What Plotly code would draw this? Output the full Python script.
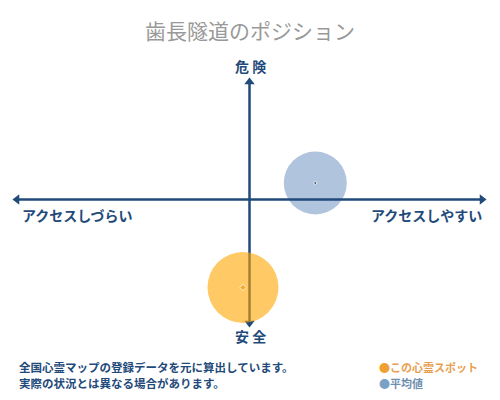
import plotly.graph_objects as go

# ポジションデータ（横: アクセス, 縦: 危険度）
names = ['平均値', 'この心霊スポット']
access = [0.283, -0.028]
danger = [0.1375, -0.733]

title = '歯長隧道のポジション'
axis_labels = ['危 険', '安 全', 'アクセスしづらい', 'アクセスしやすい']
notes = ['全国心霊マップの登録データを元に算出しています。',
         '実際の状況とは異なる場合があります。']

navy = '#1f4a7a'
font = 'Noto Sans CJK JP'
OFF = 8  # ページ余白の分だけずらす
W, H = 500, 400


def px(x):
    return (x - OFF) / W


def py(y):
    return 1 - (y - OFF) / H


fig = go.Figure()

# 平均値の円（軸の下）
fig.add_trace(go.Scatter(x=[access[0]], y=[danger[0]], mode='markers',
                         marker=dict(size=63, color='#b0c4de', line=dict(width=0)),
                         hoverinfo='skip'))

# 軸
fig.add_trace(go.Scatter(x=[-1, 1], y=[0, 0], mode='lines',
                         line=dict(color=navy, width=2.5), hoverinfo='skip'))
fig.add_trace(go.Scatter(x=[0, 0], y=[-1.03, 0.98], mode='lines',
                         line=dict(color=navy, width=2.5), hoverinfo='skip'))
fig.add_trace(go.Scatter(x=[-1, 1, 0, 0], y=[0, 0, 0.98, -1.03], mode='markers',
                         marker=dict(symbol=['triangle-left', 'triangle-right', 'triangle-up', 'triangle-down'],
                                     size=9, color=navy),
                         hoverinfo='skip'))

# この心霊スポットの円（半透明）
fig.add_trace(go.Scatter(x=[access[1]], y=[danger[1]], mode='markers',
                         marker=dict(size=71, color='rgba(255,165,0,0.6)', line=dict(width=0)),
                         hoverinfo='skip'))

# 中心点
fig.add_trace(go.Scatter(x=access, y=danger, mode='markers',
                         marker=dict(size=[3, 5], color=['#1a2a3a', '#f0a020'],
                                     symbol=['circle', 'diamond']),
                         hoverinfo='skip'))

ann = [
    dict(text=title, x=250, y=30, font=dict(size=21, color='#999999')),
    dict(text='<b>' + axis_labels[0] + '</b>', x=250, y=66, font=dict(size=14, color=navy)),
    dict(text='<b>' + axis_labels[1] + '</b>', x=250, y=336, font=dict(size=14, color=navy)),
    dict(text='<b>' + axis_labels[2] + '</b>', x=77, y=215, font=dict(size=14, color=navy)),
    dict(text='<b>' + axis_labels[3] + '</b>', x=426, y=215, font=dict(size=14, color=navy)),
]
for a in ann:
    fig.add_annotation(xref='paper', yref='paper', x=px(a['x']), y=py(a['y']),
                       text=a['text'], showarrow=False, font=dict(family=font, **a['font']),
                       xanchor='center', yanchor='middle')

for i, n in enumerate(notes):
    fig.add_annotation(xref='paper', yref='paper', x=px(17), y=py(367 + 16 * i),
                       text='<b>' + n + '</b>', showarrow=False, xanchor='left', yanchor='middle',
                       font=dict(family=font, size=11.5, color=navy))

# 凡例
fig.add_annotation(xref='paper', yref='paper', x=px(377), y=py(367),
                   text='<span style="color:#f0a030">●</span><b>' + names[1] + '</b>',
                   showarrow=False, xanchor='left', yanchor='middle',
                   font=dict(family=font, size=11, color='#e8a050'))
fig.add_annotation(xref='paper', yref='paper', x=px(377), y=py(383),
                   text='<span style="color:#7aa0c8">●</span><b>' + names[0] + '</b>',
                   showarrow=False, xanchor='left', yanchor='middle',
                   font=dict(family=font, size=11, color='#6f8fb0'))

cx, cy = 249.5 - OFF, 199.5 - OFF
fig.update_xaxes(range=[-cx / 232.5, (W - cx) / 232.5], visible=False)
fig.update_yaxes(range=[-(H - cy) / 120, cy / 120], visible=False)
fig.update_layout(width=W, height=H, margin=dict(l=0, r=0, t=0, b=0),
                  showlegend=False, plot_bgcolor='white', paper_bgcolor='white')

fig.write_html('out.html')
